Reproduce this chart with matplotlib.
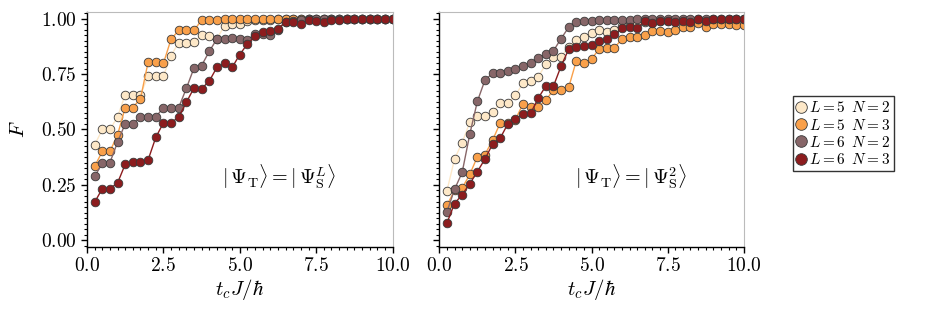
import numpy as np
import matplotlib
matplotlib.use('Agg')
import matplotlib.pyplot as plt
from matplotlib.ticker import MultipleLocator, FuncFormatter

plt.rcParams['mathtext.fontset'] = 'cm'
plt.rcParams['font.family'] = ['DejaVu Serif']

# time grid t_c J / hbar
t = np.arange(1, 41) * 0.25

# left panel: |Psi_T> = |Psi_S^L>
left_L5N2 = [0.430, 0.500, 0.500, 0.557, 0.657, 0.657, 0.657, 0.741, 0.741, 0.741,
             0.833, 0.892, 0.889, 0.896, 0.925, 0.920, 0.910, 0.967, 0.975, 0.975,
             0.990, 0.995, 0.995, 0.995, 0.997, 0.997, 0.998, 0.998, 0.998, 0.999,
             0.999, 0.999, 0.999, 1.000, 1.000, 1.000, 1.000, 1.000, 1.000, 1.000]
left_L5N3 = [0.334, 0.401, 0.401, 0.476, 0.599, 0.599, 0.639, 0.804, 0.804, 0.798,
             0.907, 0.947, 0.947, 0.947, 0.993, 0.993, 0.995, 0.997, 0.997, 0.998,
             0.998, 0.998, 0.999, 0.999, 0.999, 0.999, 1.000, 1.000, 1.000, 1.000,
             1.000, 1.000, 1.000, 1.000, 1.000, 1.000, 1.000, 1.000, 1.000, 1.000]
left_L6N2 = [0.288, 0.348, 0.351, 0.443, 0.526, 0.526, 0.556, 0.556, 0.556, 0.599,
             0.599, 0.599, 0.685, 0.777, 0.788, 0.852, 0.908, 0.908, 0.914, 0.906,
             0.903, 0.931, 0.930, 0.926, 0.950, 0.985, 0.990, 0.995, 0.997, 0.998,
             0.998, 0.999, 0.999, 1.000, 1.000, 1.000, 1.000, 1.000, 1.000, 1.000]
left_L6N3 = [0.172, 0.233, 0.233, 0.259, 0.343, 0.354, 0.354, 0.363, 0.464, 0.530,
             0.530, 0.556, 0.622, 0.687, 0.684, 0.718, 0.780, 0.798, 0.780, 0.838,
             0.886, 0.920, 0.940, 0.946, 0.955, 0.985, 0.983, 0.977, 0.994, 0.991,
             0.985, 0.994, 0.996, 0.997, 0.998, 0.998, 0.999, 0.999, 1.000, 1.000]

# right panel: |Psi_T> = |Psi_S^2>
right_L5N2 = [0.223, 0.367, 0.440, 0.532, 0.562, 0.562, 0.578, 0.618, 0.618, 0.655,
              0.708, 0.720, 0.738, 0.795, 0.825, 0.828, 0.873, 0.904, 0.915, 0.935,
              0.950, 0.940, 0.950, 0.965, 0.975, 0.980, 0.985, 0.985, 0.990, 0.990,
              0.990, 0.993, 0.993, 0.995, 0.995, 0.995, 0.996, 0.996, 0.997, 0.997]
right_L5N3 = [0.158, 0.225, 0.236, 0.297, 0.377, 0.387, 0.452, 0.529, 0.530, 0.545,
              0.616, 0.603, 0.601, 0.632, 0.679, 0.679, 0.690, 0.810, 0.800, 0.818,
              0.863, 0.869, 0.869, 0.907, 0.919, 0.916, 0.925, 0.946, 0.943, 0.940,
              0.949, 0.964, 0.961, 0.979, 0.964, 0.976, 0.976, 0.976, 0.973, 0.973]
right_L6N2 = [0.128, 0.230, 0.306, 0.478, 0.627, 0.723, 0.753, 0.755, 0.764, 0.772,
              0.787, 0.799, 0.821, 0.842, 0.855, 0.910, 0.961, 0.983, 0.991, 0.991,
              0.992, 0.993, 0.994, 0.996, 0.996, 0.997, 0.997, 0.998, 0.998, 0.998,
              0.998, 0.999, 0.999, 0.999, 0.999, 0.999, 0.999, 1.000, 1.000, 1.000]
right_L6N3 = [0.078, 0.166, 0.206, 0.255, 0.310, 0.367, 0.434, 0.461, 0.525, 0.547,
              0.571, 0.573, 0.642, 0.696, 0.696, 0.786, 0.862, 0.874, 0.875, 0.881,
              0.897, 0.907, 0.929, 0.956, 0.964, 0.956, 0.991, 0.982, 0.988, 0.991,
              0.985, 0.991, 0.985, 0.998, 0.991, 0.998, 0.998, 0.997, 0.997, 0.998]

labels = [r'$L=5\;\;N=2$', r'$L=5\;\;N=3$', r'$L=6\;\;N=2$', r'$L=6\;\;N=3$']
colors = ['#fde8c8', '#f9a04a', '#876668', '#8c1c1e']

fig = plt.figure(figsize=(9.47, 3.16), dpi=100)
ax1 = fig.add_axes([0.0919, 0.2184, 0.3226, 0.7437])
ax2 = fig.add_axes([0.4639, 0.2184, 0.3215, 0.7437])

panels = [(ax1, [left_L5N2, left_L5N3, left_L6N2, left_L6N3],
           r'$|\,\Psi_{\rm T}\rangle = |\,\Psi_{\rm S}^{L}\rangle$'),
          (ax2, [right_L5N2, right_L5N3, right_L6N2, right_L6N3],
           r'$|\,\Psi_{\rm T}\rangle = |\,\Psi_{\rm S}^{2}\rangle$')]

handles = []
for ax, series, txt in panels:
    handles = []
    for y, c, lab in zip(series, colors, labels):
        h, = ax.plot(t, y, '-o', color=c, lw=1.0, ms=6.2, mfc=c,
                     mec='#3a3a3a', mew=0.6, label=lab)
        handles.append(h)
    ax.set_xlim(0, 10)
    ax.set_ylim(-0.03, 1.03)
    ax.xaxis.set_major_locator(MultipleLocator(2.5))
    ax.xaxis.set_minor_locator(MultipleLocator(0.25))
    ax.yaxis.set_major_locator(MultipleLocator(0.25))
    ax.yaxis.set_minor_locator(MultipleLocator(0.025))
    ax.xaxis.set_major_formatter(FuncFormatter(lambda v, p: r'$%.1f$' % v))
    ax.yaxis.set_major_formatter(FuncFormatter(lambda v, p: r'$%.2f$' % v))
    ax.tick_params(which='major', direction='out', length=4, width=1.0, labelsize=14)
    ax.tick_params(which='minor', direction='out', length=2.5, width=0.8)
    ax.tick_params(top=False, right=False, which='both')
    for s in ['top', 'right']:
        ax.spines[s].set_color('#bbbbbb')
    for s in ['left', 'bottom']:
        ax.spines[s].set_linewidth(1.0)
    ax.set_xlabel(r'$t_cJ/\hbar$', fontsize=15, labelpad=1)
    ax.text(0.63, 0.30, txt, transform=ax.transAxes, fontsize=14.5,
            ha='center', va='center')

ax1.set_ylabel(r'$F$', fontsize=15, labelpad=9)
ax2.tick_params(labelleft=False)

leg = fig.legend(handles=handles, loc='center left', bbox_to_anchor=(0.837, 0.577),
                 fontsize=11, frameon=True, fancybox=False, edgecolor='black',
                 handlelength=0.6, handletextpad=0.2, borderpad=0.25,
                 labelspacing=0.15, markerscale=1.35, borderaxespad=0)
leg.get_frame().set_linewidth(1.0)
for h in leg.legend_handles:
    h.set_linestyle('')

fig.savefig('out.png', dpi=100)
